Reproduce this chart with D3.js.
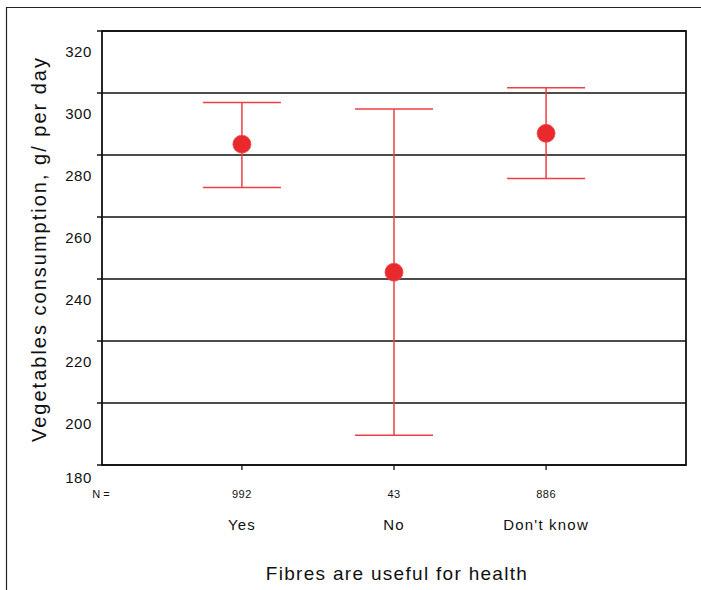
<!DOCTYPE html>
<html>
<head>
<meta charset="utf-8">
<script src="https://cdn.jsdelivr.net/npm/d3@7"></script>
<style>
  body { margin: 0; background: #fff; }
  text { font-family: "Liberation Sans", Arial, sans-serif; fill: #111; }
</style>
</head>
<body>
<svg id="chart" width="701" height="590"></svg>
<script>
// categories and values
var categories = ["Yes", "No", "Don't know"];
var counts = [992, 43, 886];
var means = [283.5, 242.2, 287.0];
var upper = [296.9, 294.8, 301.7];
var lower = [269.5, 189.6, 272.4];
var yTicks = [180, 200, 220, 240, 260, 280, 300, 320];

var svg = d3.select("#chart");

// outer frame (only top and left visible)
svg.append("line").attr("x1", 6).attr("x2", 701).attr("y1", 7.5).attr("y2", 7.5)
   .attr("stroke", "#222").attr("stroke-width", 1.2);
svg.append("line").attr("x1", 6.5).attr("x2", 6.5).attr("y1", 7).attr("y2", 590)
   .attr("stroke", "#222").attr("stroke-width", 1.2);

var pLeft = 102, pRight = 686, pTop = 31, pBottom = 465;

var y = d3.scaleLinear().domain([180, 320]).range([pBottom, pTop]);
var x = d3.scalePoint().domain(categories).range([pLeft, pRight]).padding(0.92);

var g = svg.append("g");

// gridlines + left ticks
g.selectAll(".grid")
  .data(yTicks)
  .enter().append("line")
  .attr("x1", pLeft - 5).attr("x2", pRight)
  .attr("y1", d => y(d)).attr("y2", d => y(d))
  .attr("stroke", "#111").attr("stroke-width", 1.3);

// tick labels (drawn lower than their lines, like the original; the last one is squeezed up)
g.selectAll(".ylab")
  .data(yTicks)
  .enter().append("text")
  .attr("x", 92).attr("y", d => y(d) + (d === 180 ? 18 : 26))
  .attr("text-anchor", "end")
  .style("font-size", "15px").style("letter-spacing", "0.6px")
  .text(d => d);

// plot box
g.append("rect")
  .attr("x", pLeft).attr("y", pTop)
  .attr("width", pRight - pLeft).attr("height", pBottom - pTop)
  .attr("fill", "none").attr("stroke", "#111").attr("stroke-width", 1.8);

// bottom ticks
g.selectAll(".xtick")
  .data(categories)
  .enter().append("line")
  .attr("x1", d => x(d)).attr("x2", d => x(d))
  .attr("y1", pBottom).attr("y2", pBottom + 5)
  .attr("stroke", "#111").attr("stroke-width", 1.3);

// N row
g.append("text").attr("x", 101).attr("y", 498)
  .attr("text-anchor", "middle").style("font-size", "11px").text("N =");
g.selectAll(".nlab")
  .data(categories)
  .enter().append("text")
  .attr("x", d => x(d)).attr("y", 498)
  .attr("text-anchor", "middle").style("font-size", "11px").style("letter-spacing", "0.5px")
  .text((d, i) => counts[i]);

// category labels
g.selectAll(".cat")
  .data(categories)
  .enter().append("text")
  .attr("x", d => x(d)).attr("y", 530)
  .attr("text-anchor", "middle").style("font-size", "15px").style("letter-spacing", "1.2px")
  .text(d => d);

// axis titles
svg.append("text").attr("x", 397).attr("y", 580)
  .attr("text-anchor", "middle").style("font-size", "19px").style("letter-spacing", "1.3px")
  .text("Fibres are useful for health");
svg.append("text")
  .attr("transform", "translate(46,249) rotate(-90)")
  .attr("text-anchor", "middle").style("font-size", "20px").style("letter-spacing", "2px")
  .text("Vegetables consumption, g/ per day");

// error bars
var red = "#ef3e42";
var eb = g.selectAll(".eb")
  .data(categories)
  .enter().append("g");

eb.append("line")
  .attr("x1", d => x(d)).attr("x2", d => x(d))
  .attr("y1", (d, i) => y(upper[i])).attr("y2", (d, i) => y(lower[i]))
  .attr("stroke", red).attr("stroke-width", 1.5);
eb.append("line")
  .attr("x1", d => x(d) - 39).attr("x2", d => x(d) + 39)
  .attr("y1", (d, i) => y(upper[i])).attr("y2", (d, i) => y(upper[i]))
  .attr("stroke", red).attr("stroke-width", 1.5);
eb.append("line")
  .attr("x1", d => x(d) - 39).attr("x2", d => x(d) + 39)
  .attr("y1", (d, i) => y(lower[i])).attr("y2", (d, i) => y(lower[i]))
  .attr("stroke", red).attr("stroke-width", 1.5);
eb.append("circle")
  .attr("cx", d => x(d)).attr("cy", (d, i) => y(means[i]))
  .attr("r", 9)
  .attr("fill", "#e82a2e").attr("stroke", "#f04a4a").attr("stroke-width", 0.8);
</script>
</body>
</html>
